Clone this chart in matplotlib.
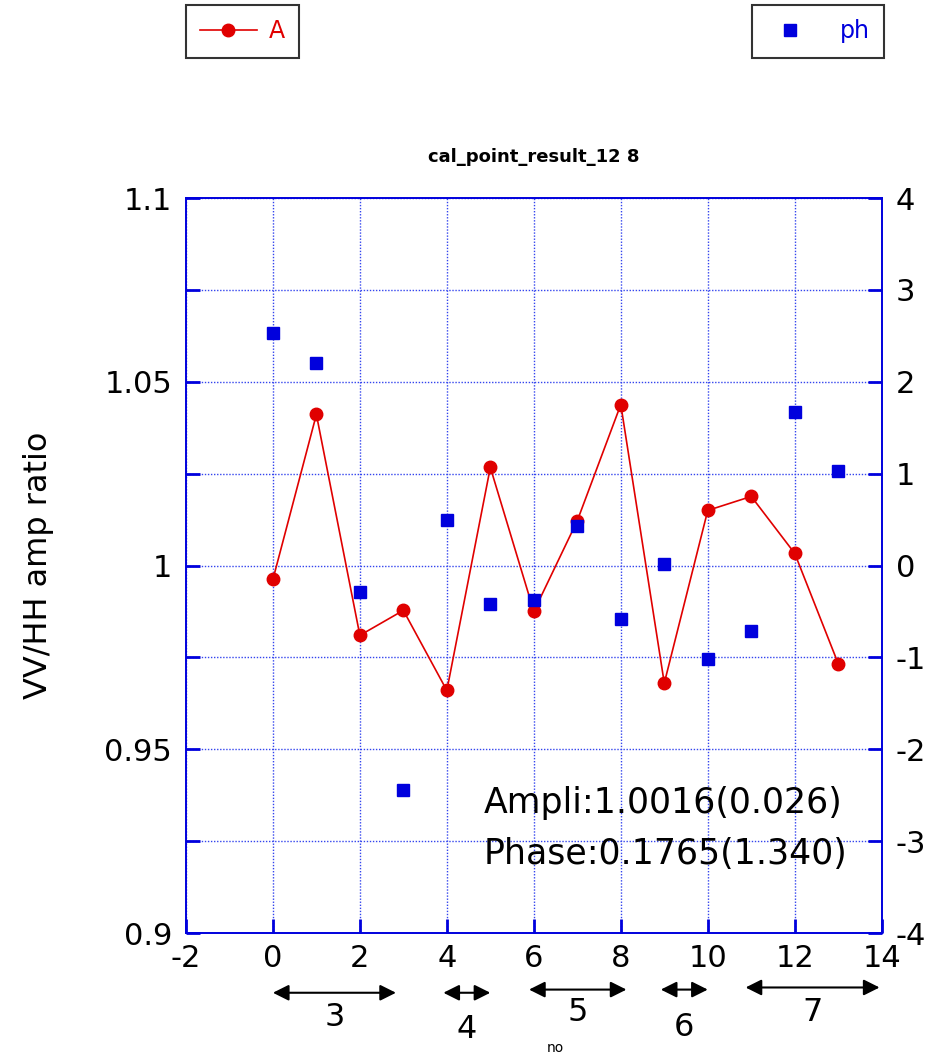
import numpy as np
import matplotlib.pyplot as plt
from matplotlib.lines import Line2D
from matplotlib.ticker import MultipleLocator
import matplotlib.transforms as mtransforms

# data
no = [0, 1, 2, 3, 4, 5, 6, 7, 8, 9, 10, 11, 12, 13]
amp = [0.9962, 1.0411, 0.981, 0.9878, 0.966, 1.0267, 0.9875,
       1.0122, 1.0438, 0.968, 1.015, 1.0188, 1.0033, 0.9733]
ph = [2.53, 2.20, -0.29, -2.44, 0.50, -0.42, -0.38,
      0.43, -0.58, 0.02, -1.02, -0.71, 1.67, 1.03]

groups = ["3", "4", "5", "6", "7"]
group_start = [0.0, 3.92, 5.89, 8.92, 10.87]
group_end = [2.83, 5.0, 8.13, 10.0, 13.95]

plt.rcParams['font.family'] = ['DejaVu Sans']
plt.rcParams['axes.unicode_minus'] = False
blue = "#0000dd"
red = "#e00000"

fig = plt.figure(figsize=(9.39, 10.55), dpi=100)
ax = fig.add_axes([0.198, 0.1156, 0.741, 0.6967])
ax2 = ax.twinx()

ax.plot(no, amp, color=red, marker="o", markersize=9, linewidth=1.2)
ax2.plot(no, ph, linestyle="none", marker="s", color=blue, markersize=9)

ax.set_xlim(-2, 14)
ax.set_ylim(0.9, 1.1)
ax2.set_ylim(-4, 4)
ax.xaxis.set_major_locator(MultipleLocator(2))
ax.yaxis.set_minor_locator(MultipleLocator(0.025))
ax2.yaxis.set_major_locator(MultipleLocator(1))
ax.set_yticks([0.9, 0.95, 1.0, 1.05, 1.1])
ax.set_yticklabels(["0.9", "0.95", "1", "1.05", "1.1"])

ax.grid(True, which="both", color="#3344ee", linestyle=(0, (1, 1.2)), linewidth=1)
for a in (ax, ax2):
    for s in a.spines.values():
        s.set_color(blue)
        s.set_linewidth(1.2)
    a.tick_params(direction="in", length=10, width=2, color=blue, labelsize=22)
ax.tick_params(which="minor", direction="in", length=10, width=2, color=blue)
ax.tick_params(axis="x", pad=8)
ax.tick_params(axis="y", pad=10)
ax2.tick_params(axis="y", pad=10)

ax.set_ylabel("VV/HH amp ratio", fontsize=23, labelpad=36)
ax.set_title("cal_point_result_12 8", fontsize=13, fontweight="bold", pad=26)

ax.text(4.85, 0.9355, "Ampli:1.0016(0.026)", fontsize=25, va="center")
ax.text(4.85, 0.9215, "Phase:0.1765(1.340)", fontsize=25, va="center")

# group arrows below the x axis
trans = mtransforms.blended_transform_factory(ax.transData, fig.transFigure)
arrow_y = [0.059, 0.059, 0.062, 0.062, 0.064]
label_y = [0.036, 0.024, 0.040, 0.026, 0.040]
for g, x0, x1, ay, ly in zip(groups, group_start, group_end, arrow_y, label_y):
    ax.annotate("", xy=(x0, ay), xytext=(x1, ay), xycoords=trans, textcoords=trans,
                arrowprops=dict(arrowstyle="<|-|>", color="black", lw=1.5,
                                mutation_scale=24, shrinkA=0, shrinkB=0),
                annotation_clip=False)
    ax.text((x0 + x1) / 2, ly, g, transform=trans, fontsize=23, ha="center", va="center")
ax.text(6.5, 0.007, "no", transform=trans, fontsize=10, ha="center", va="center")

# legends at the top
h1 = Line2D([], [], color=red, marker="o", markersize=9, linewidth=1.2)
h2 = Line2D([], [], color=blue, marker="s", linestyle="none", markersize=9)
leg1 = fig.legend([h1], ["A"], loc="upper left", bbox_to_anchor=(0.198, 0.995),
                  fancybox=False, edgecolor="black", fontsize=17, handlelength=2.4,
                  handletextpad=0.5, borderpad=0.6, borderaxespad=0, labelcolor=red)
leg1.get_frame().set_linewidth(1.5)
leg2 = fig.legend([h2], ["ph"], loc="upper right", bbox_to_anchor=(0.941, 0.995),
                  fancybox=False, edgecolor="black", fontsize=17, handlelength=2,
                  handletextpad=1.1, borderpad=0.6, borderaxespad=0, labelcolor=blue)
leg2.get_frame().set_linewidth(1.5)

fig.savefig("out.png", dpi=100)
